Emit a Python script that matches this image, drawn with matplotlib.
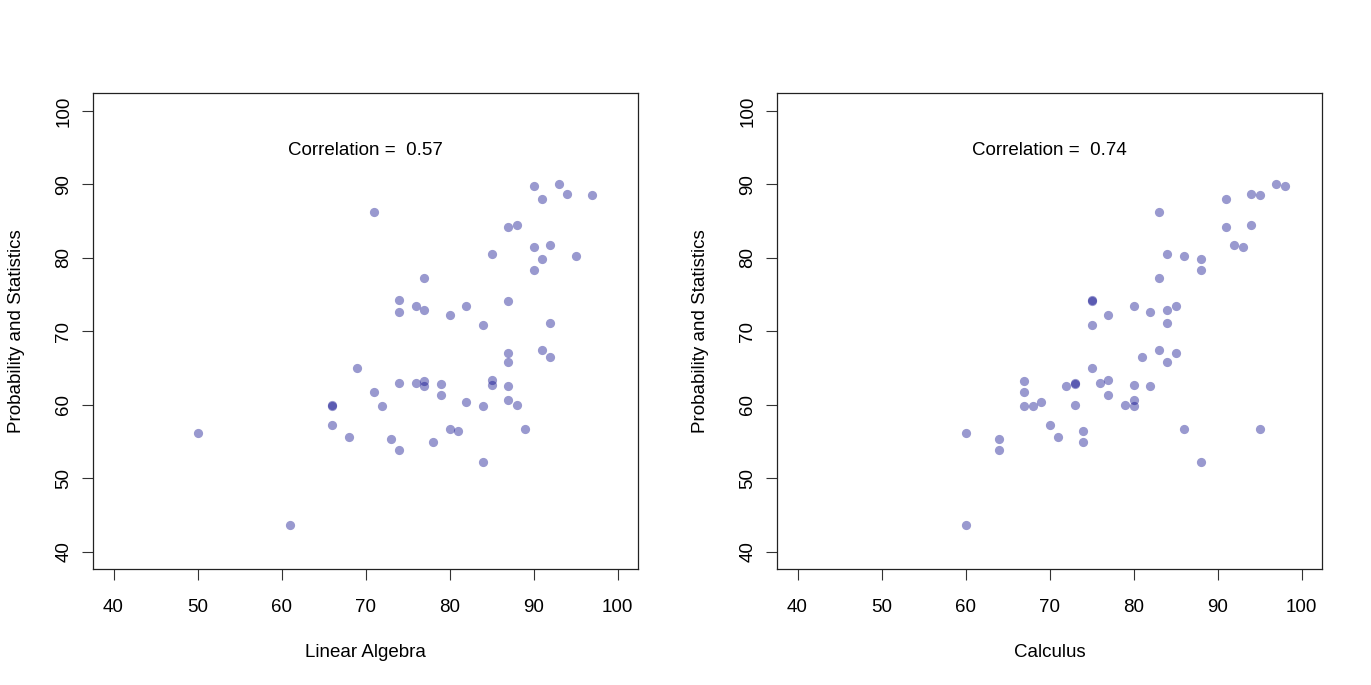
import matplotlib
matplotlib.use("Agg")
import matplotlib.pyplot as plt

plt.rcParams['font.family'] = ['Liberation Sans', 'DejaVu Sans']

# Probability and Statistics scores (shared y for both panels)
prob_stats = [90.0, 89.8, 88.7, 88.5, 88.0, 86.3, 84.2, 84.5, 81.8, 81.5,
              80.5, 80.2, 79.8, 78.4, 77.2, 74.3, 74.1, 73.5, 73.4, 72.9,
              72.6, 72.2, 71.2, 70.9, 67.5, 67.0, 66.5, 65.8, 65.0, 63.4,
              63.2, 62.9, 62.9, 62.8, 62.7, 62.6, 62.5, 61.8, 61.3, 60.6,
              60.4, 60.0, 60.0, 59.9, 59.8, 59.8, 57.3, 56.7, 56.7, 56.4,
              56.1, 55.6, 55.3, 55.0, 53.9, 52.2, 43.6]
linear_algebra = [93, 90, 94, 97, 91, 71, 87, 88, 92, 90,
                  85, 95, 91, 90, 77, 74, 87, 76, 82, 77,
                  74, 80, 92, 84, 91, 87, 92, 87, 69, 85,
                  77, 74, 76, 79, 85, 77, 87, 71, 79, 87,
                  82, 66, 88, 84, 66, 72, 66, 80, 89, 81,
                  50, 68, 73, 78, 74, 84, 61]
calculus = [97, 98, 94, 95, 91, 83, 91, 94, 92, 93,
            84, 86, 88, 88, 83, 75, 75, 80, 85, 84,
            82, 77, 84, 75, 83, 85, 81, 84, 75, 77,
            67, 73, 76, 73, 80, 72, 82, 67, 77, 80,
            69, 73, 79, 68, 67, 80, 70, 86, 95, 74,
            60, 71, 64, 74, 64, 88, 60]

x_labels = ["Linear Algebra", "Calculus"]
y_label = "Probability and Statistics"
corr_texts = ["Correlation =  0.57", "Correlation =  0.74"]
ticks = [40, 50, 60, 70, 80, 90, 100]

fig = plt.figure(figsize=(13.71, 6.85), dpi=100)
W, H = 1371, 685
lefts = [93.4, 777.4]
for i, xs in enumerate([linear_algebra, calculus]):
    ax = fig.add_axes([lefts[i] / W, (H - 569.3) / H, 544.3 / W, 475.9 / H])
    ax.scatter(xs, prob_stats, s=44, color=(0, 0, 0.53), alpha=0.4,
               linewidths=0)
    ax.set_xlim(37.6, 102.4)
    ax.set_ylim(37.6, 102.4)
    ax.set_xticks(ticks)
    ax.set_yticks(ticks)
    ax.tick_params(axis='both', length=8.1, width=0.8, labelsize=13.5,
                   color='#333333')
    ax.tick_params(axis='x', pad=13)
    ax.tick_params(axis='y', pad=7, labelrotation=90)
    for lab in ax.get_yticklabels():
        lab.set_va('center')
    for sp in ax.spines.values():
        sp.set_linewidth(0.9)
        sp.set_color('#222222')
    ax.set_xlabel(x_labels[i], fontsize=13.5)
    ax.set_ylabel(y_label, fontsize=13.5)
    ax.xaxis.set_label_coords(0.5, -0.156)
    ax.yaxis.set_label_coords(-0.125, 0.5)
    ax.text(70, 94.6, corr_texts[i], fontsize=13.5, ha='center', va='center')

fig.savefig("out.png", dpi=100)
